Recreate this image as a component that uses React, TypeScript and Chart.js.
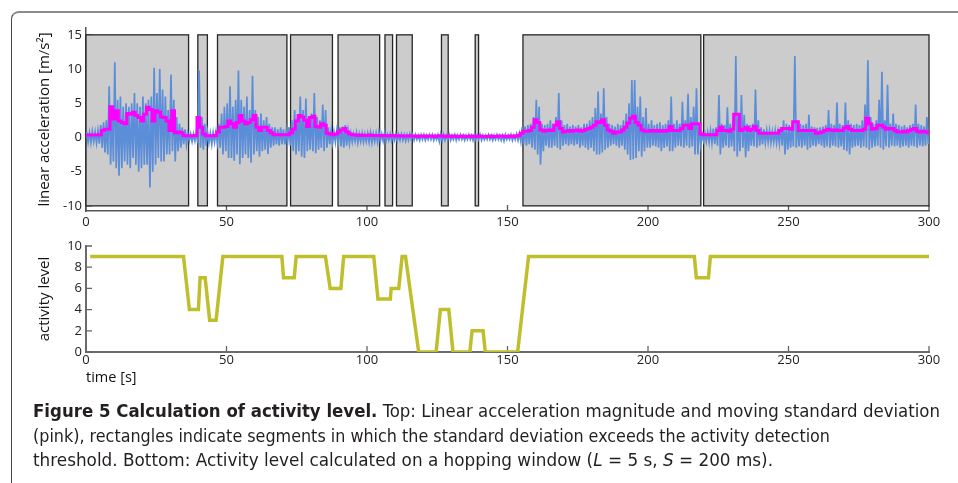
import React, { useEffect, useLayoutEffect, useRef } from "react";
import { Chart, registerables } from "chart.js";
Chart.register(...registerables);

// ---------- data ----------
// linear acceleration, per 1 s bin: upper and lower excursion (m/s^2)
const ACC_HI = [
  0.8, 0.7, 0.9, 0.8, 1.0, 1.8, 2.2, 2.5, 7.5, 4.0,
  11.0, 5.5, 6.0, 4.5, 5.0, 4.5, 5.0, 6.5, 5.0, 4.5,
  6.0, 5.0, 5.5, 6.0, 10.2, 6.5, 10.0, 7.0, 6.0, 4.0,
  9.2, 5.5, 3.0, 2.0, 1.5, 1.2, 0.6, 0.5, 0.5, 0.8,
  9.8, 3.0, 2.0, 0.8, 0.6, 0.7, 0.8, 2.0, 3.5, 4.5,
  5.0, 7.5, 4.5, 5.5, 9.8, 5.5, 4.5, 6.0, 4.0, 9.0,
  4.0, 3.0, 3.5, 2.5, 3.0, 2.0, 1.5, 1.5, 1.2, 1.5,
  1.2, 1.0, 1.5, 2.5, 4.0, 3.0, 6.0, 4.0, 5.7, 3.0,
  3.5, 6.5, 3.0, 2.5, 4.8, 4.0, 1.5, 1.0, 0.8, 1.0,
  1.5, 1.6, 1.8, 1.0, 0.6, 0.5, 0.7, 0.5, 0.6, 0.5,
  0.6, 0.7, 0.5, 0.6, 0.8, 0.5, 0.7, 0.4, 0.5, 0.4,
  0.5, 0.4, 0.5, 0.4, 0.4, 0.5, 0.4, 0.4, 0.3, 0.4,
  0.4, 0.3, 0.4, 0.4, 0.3, 0.4, 0.5, 0.4, 0.3, 0.4,
  0.3, 0.4, 0.3, 0.4, 0.3, 0.3, 0.4, 0.3, 0.4, 0.3,
  0.4, 0.3, 0.3, 0.4, 0.3, 0.3, 0.4, 0.3, 0.3, 0.4,
  0.3, 0.4, 0.3, 0.5, 0.6, 1.5, 1.6, 1.8, 2.0, 3.0,
  5.5, 4.5, 2.0, 1.8, 2.0, 2.5, 2.0, 3.0, 6.5, 2.5,
  1.8, 2.0, 1.6, 1.8, 1.6, 1.8, 1.5, 2.0, 2.0, 2.5,
  3.0, 4.3, 6.7, 3.5, 7.2, 3.0, 2.0, 1.8, 1.6, 2.0,
  1.8, 2.5, 3.5, 5.0, 8.4, 8.4, 4.5, 6.0, 3.0, 4.3,
  2.0, 2.5, 1.8, 2.0, 2.2, 1.8, 2.0, 2.5, 6.0, 2.0,
  2.5, 2.0, 5.2, 2.5, 6.4, 3.0, 4.5, 7.2, 2.0, 0.5,
  0.6, 0.8, 1.0, 1.3, 1.5, 6.2, 2.0, 1.8, 4.4, 2.0,
  2.5, 11.9, 3.0, 6.2, 3.3, 2.0, 1.8, 2.0, 7.0, 2.5,
  1.5, 1.2, 1.0, 1.0, 0.8, 1.0, 0.8, 1.5, 2.5, 2.0,
  1.8, 2.0, 11.9, 2.5, 2.0, 1.8, 2.0, 3.3, 1.6, 1.5,
  1.4, 1.5, 1.6, 1.8, 4.0, 2.0, 1.8, 5.1, 2.0, 1.8,
  5.1, 2.5, 2.0, 1.8, 2.0, 1.8, 2.5, 4.8, 11.3, 3.0,
  2.0, 2.5, 5.5, 9.6, 2.5, 7.7, 2.0, 3.5, 2.0, 1.8,
  1.6, 1.8, 1.5, 1.8, 2.0, 4.8, 2.0, 1.8, 1.6, 3.0,
];
const ACC_LO = [
  -0.7, -0.8, -0.6, -0.8, -0.9, -1.5, -2.2, -2.5, -4.0, -3.5,
  -4.5, -5.6, -4.5, -3.5, -4.0, -4.5, -3.0, -4.0, -5.0, -4.5,
  -4.0, -4.0, -7.3, -5.0, -4.0, -3.0, -3.5, -3.5, -2.5, -2.5,
  -2.0, -3.5, -2.0, -1.5, -1.0, -1.0, -0.5, -0.6, -0.5, -0.8,
  -1.5, -1.8, -1.2, -0.8, -1.0, -0.7, -0.8, -1.5, -2.5, -2.0,
  -3.0, -3.0, -3.4, -2.5, -3.9, -3.0, -2.5, -3.0, -3.7, -2.5,
  -2.0, -2.8, -2.0, -1.8, -2.4, -1.5, -1.2, -1.0, -1.2, -1.0,
  -1.0, -0.8, -1.2, -2.0, -2.5, -2.0, -2.8, -3.0, -2.0, -1.8,
  -2.0, -2.3, -1.8, -1.5, -2.0, -1.5, -1.0, -0.8, -0.7, -0.8,
  -1.3, -1.5, -1.2, -0.9, -0.7, -0.6, -0.8, -0.6, -0.7, -0.6,
  -0.7, -0.8, -0.6, -0.7, -0.6, -0.5, -0.6, -0.4, -0.5, -0.4,
  -0.5, -0.4, -0.4, -0.5, -0.4, -0.3, -0.4, -0.3, -0.4, -0.3,
  -0.4, -0.3, -0.3, -0.4, -0.3, -0.6, -0.5, -0.4, -0.3, -0.4,
  -0.3, -0.4, -0.3, -0.3, -0.4, -0.3, -0.3, -0.4, -0.3, -0.3,
  -0.4, -0.3, -0.3, -0.3, -0.4, -0.3, -0.3, -0.4, -0.5, -0.3,
  -0.3, -0.4, -0.3, -0.4, -0.6, -1.0, -1.2, -1.0, -1.5, -1.8,
  -2.5, -4.0, -2.0, -1.2, -1.5, -1.5, -1.2, -1.5, -1.8, -1.2,
  -1.0, -1.2, -1.0, -1.2, -1.0, -1.5, -1.2, -1.5, -1.8, -1.5,
  -2.0, -2.5, -2.5, -2.2, -1.8, -1.5, -1.2, -1.0, -1.2, -1.5,
  -1.2, -1.8, -2.5, -3.3, -3.2, -3.0, -2.0, -2.8, -2.0, -1.5,
  -1.5, -1.2, -1.3, -1.5, -2.0, -1.5, -1.3, -2.0, -2.0, -1.5,
  -1.2, -1.3, -1.5, -1.2, -1.5, -1.3, -2.5, -2.5, -1.0, -0.5,
  -0.6, -0.7, -0.8, -1.0, -1.2, -2.5, -1.5, -1.2, -1.5, -1.3,
  -2.0, -2.8, -2.0, -1.5, -2.9, -2.0, -1.2, -1.3, -1.5, -1.2,
  -1.0, -0.8, -0.7, -0.8, -0.7, -0.8, -0.9, -1.2, -2.5, -1.8,
  -1.5, -1.3, -1.5, -1.3, -1.5, -1.2, -1.8, -1.5, -1.2, -1.3,
  -1.0, -1.2, -1.5, -1.3, -1.5, -1.2, -1.3, -1.5, -1.3, -1.8,
  -2.0, -2.5, -1.5, -1.3, -1.2, -1.5, -1.3, -1.5, -1.8, -1.5,
  -1.3, -1.2, -1.5, -1.8, -1.3, -1.5, -1.2, -1.3, -1.2, -1.5,
  -1.3, -1.2, -1.5, -1.2, -1.3, -1.5, -1.2, -1.3, -1.2, -1.0,
];
// moving standard deviation, t = 0..300 s
const STD = [
  0.35, 0.35, 0.35, 0.35, 0.35, 0.4, 1.0, 1.2, 1.2, 4.5,
  2.7, 3.9, 2.4, 2.2, 2.0, 3.5, 3.4, 3.7, 3.2, 2.9,
  2.4, 3.4, 4.4, 4.1, 2.4, 3.9, 3.7, 3.0, 2.9, 2.4,
  1.0, 3.9, 0.7, 0.8, 0.7, 0.3, 0.25, 0.25, 0.25, 0.3,
  2.9, 1.5, 0.5, 0.25, 0.25, 0.25, 0.3, 0.8, 1.5, 1.5,
  1.6, 2.4, 2.0, 1.5, 2.2, 3.2, 2.4, 2.0, 2.2, 2.6,
  3.2, 1.5, 1.0, 1.5, 1.5, 1.0, 0.7, 0.4, 0.4, 0.4,
  0.4, 0.4, 0.4, 0.7, 1.2, 2.4, 3.2, 3.0, 2.5, 1.6,
  2.9, 3.1, 1.6, 1.5, 2.0, 1.8, 0.6, 0.5, 0.4, 0.5,
  0.8, 1.1, 1.3, 0.8, 0.5, 0.4, 0.35, 0.3, 0.35, 0.3,
  0.3, 0.35, 0.3, 0.3, 0.3, 0.25, 0.3, 0.25, 0.25, 0.3,
  0.25, 0.2, 0.25, 0.2, 0.2, 0.25, 0.2, 0.2, 0.15, 0.2,
  0.2, 0.15, 0.2, 0.2, 0.15, 0.2, 0.25, 0.2, 0.15, 0.2,
  0.15, 0.2, 0.15, 0.15, 0.2, 0.15, 0.15, 0.2, 0.15, 0.15,
  0.2, 0.15, 0.15, 0.15, 0.2, 0.15, 0.15, 0.2, 0.2, 0.15,
  0.15, 0.2, 0.15, 0.2, 0.3, 0.6, 0.9, 0.9, 1.0, 1.5,
  2.6, 2.2, 1.1, 0.9, 1.0, 1.1, 1.0, 1.8, 2.3, 1.3,
  0.8, 0.9, 1.0, 0.9, 1.0, 1.1, 0.9, 1.0, 1.2, 1.3,
  1.5, 1.8, 2.3, 2.2, 2.6, 1.8, 1.1, 0.9, 0.6, 0.8,
  0.8, 1.1, 1.5, 2.1, 2.8, 3.1, 2.2, 1.8, 1.1, 0.9,
  0.9, 1.0, 0.9, 1.0, 0.9, 1.0, 0.9, 1.0, 1.6, 1.0,
  1.0, 1.0, 1.3, 1.8, 1.8, 1.3, 2.0, 2.0, 2.0, 0.5,
  0.4, 0.4, 0.4, 0.4, 0.4, 1.0, 1.5, 1.0, 1.0, 0.9,
  1.2, 3.4, 3.4, 1.0, 1.2, 1.5, 1.0, 1.2, 1.6, 1.0,
  0.6, 0.6, 0.6, 0.6, 0.6, 0.6, 0.6, 1.0, 1.3, 1.3,
  1.3, 1.2, 2.3, 2.3, 1.0, 1.0, 1.0, 1.0, 1.0, 1.0,
  0.6, 0.7, 0.8, 1.0, 1.2, 1.1, 1.0, 1.1, 1.0, 1.0,
  1.4, 1.6, 1.2, 1.0, 1.0, 1.0, 1.0, 1.2, 2.8, 2.0,
  1.2, 1.3, 1.8, 1.8, 1.5, 1.2, 1.3, 1.3, 1.0, 0.8,
  0.8, 0.9, 0.8, 1.0, 1.2, 1.3, 0.9, 0.8, 0.9, 0.8,
  0.7,
];
// activity segments (s)
const SEG_START = [0, 39.8, 46.8, 72.8, 89.7, 106.4, 110.5, 126.5, 138.5, 155.5, 219.8];
const SEG_END = [36.5, 43.2, 71.5, 87.7, 104.5, 109.1, 116.1, 128.9, 139.7, 218.8, 300];
const SEG_LOW = -10;
const SEG_HIGH = 15;
// activity level breakpoints
const ACT_T = [1.5, 34.7, 36.8, 40.0, 40.6, 42.4, 44.0, 46.3, 48.7, 69.7, 70.3, 74.1, 74.8, 85.2, 86.9, 90.7, 91.7, 102.4, 103.9, 108.3, 108.6, 111.3, 112.5, 113.7, 118.4, 124.6, 126.1, 129.1, 130.6, 136.6, 137.4, 141.3, 142.1, 153.6, 157.5, 216.5, 217.2, 221.5, 222.2, 300];
const ACT_L = [9, 9, 4, 4, 7, 7, 3, 3, 9, 9, 7, 7, 9, 9, 6, 6, 9, 9, 5, 5, 6, 6, 9, 9, 0, 0, 4, 4, 0, 0, 2, 2, 0, 0, 9, 9, 7, 7, 9, 9];
// tick labels
const X_TICKS = [0, 50, 100, 150, 200, 250, 300];
const TOP_Y_TICKS = [-10, -5, 0, 5, 10, 15];
const BOT_Y_TICKS = [0, 2, 4, 6, 8, 10];

const FONT = "'Open Sans', 'DejaVu Sans', sans-serif";
const CAPTION_FONT = "'Liberation Sans Narrow', 'DejaVu Sans Condensed', 'Open Sans', sans-serif";

const decor = {
  id: "decor",
  beforeDatasetsDraw(chart: any, _args: any, opts: any) {
    const ctx = chart.ctx;
    const x = chart.scales.x;
    const y = chart.scales.y;
    ctx.save();
    ctx.strokeStyle = opts.tickColor;
    ctx.lineWidth = 1.3;
    ctx.beginPath();
    for (const t of x.ticks) {
      const px = x.getPixelForValue(t.value);
      ctx.moveTo(px, x.top);
      ctx.lineTo(px, x.top - opts.tickLen);
    }
    for (const t of y.ticks) {
      const py = y.getPixelForValue(t.value);
      ctx.moveTo(y.right, py);
      ctx.lineTo(y.right + opts.tickLen, py);
    }
    ctx.stroke();
    if (opts.segments) {
      ctx.fillStyle = "#cccccc";
      ctx.strokeStyle = "#262626";
      ctx.lineWidth = 1.3;
      for (let i = 0; i < SEG_START.length; i++) {
        const x0 = x.getPixelForValue(SEG_START[i]);
        const x1 = x.getPixelForValue(SEG_END[i]);
        const y0 = y.getPixelForValue(SEG_HIGH);
        const y1 = y.getPixelForValue(SEG_LOW);
        ctx.fillRect(x0, y0, x1 - x0, y1 - y0);
        ctx.strokeRect(x0, y0, x1 - x0, y1 - y0);
      }
    }
    ctx.restore();
  },
};

const tickFont = { family: FONT, size: 13 };
const titleFont = { family: FONT, size: 15 };

function setTicks(arr: number[]) {
  return (s: any) => {
    s.ticks = arr.map((v) => ({ value: v }));
  };
}

export default function App() {
  const topRef = useRef<HTMLCanvasElement>(null);
  const botRef = useRef<HTMLCanvasElement>(null);
  const capRefs = useRef<(HTMLDivElement | null)[]>([]);

  useEffect(() => {
    const accData: { x: number; y: number }[] = [];
    ACC_HI.forEach((h, i) => {
      accData.push({ x: i + 0.25, y: h });
      accData.push({ x: i + 0.75, y: ACC_LO[i] });
    });
    const stdData = STD.map((v, i) => ({ x: i, y: v }));
    const actData = ACT_T.map((t, i) => ({ x: t, y: ACT_L[i] }));

    const top = new Chart(topRef.current!, {
      type: "line",
      data: {
        datasets: [
          { data: stdData, borderColor: "#ff00ff", borderWidth: 3, pointRadius: 0, stepped: "middle" as any, tension: 0 },
          { data: accData, borderColor: "#5b8dd9", borderWidth: 1.7, pointRadius: 0, tension: 0 },
        ],
      },
      options: {
        animation: false,
        responsive: false,
        events: [],
        layout: { padding: { left: 0, right: 29, top: 28, bottom: 0 } },
        plugins: {
          legend: { display: false },
          tooltip: { enabled: false },
          decor: { tickLen: 6, tickColor: "#555", segments: true },
        } as any,
        scales: {
          x: {
            type: "linear",
            min: 0,
            max: 300,
            afterBuildTicks: setTicks(X_TICKS),
            afterFit: (s: any) => { s.height = 29; },
            grid: { display: false, drawTicks: false },
            border: { display: true, color: "#555", width: 1.5 },
            ticks: { padding: 3, color: "#222", font: tickFont, maxRotation: 0, autoSkip: false },
          },
          y: {
            type: "linear",
            min: -10.75,
            max: 16,
            afterBuildTicks: setTicks(TOP_Y_TICKS),
            afterFit: (s: any) => { s.width = 86; },
            grid: { display: false, drawTicks: false },
            border: { display: true, color: "#555", width: 1.5 },
            ticks: { padding: 4, color: "#222", font: tickFont },
            title: { display: true, text: "linear acceleration [m/s\u00B2]", color: "#111", font: titleFont, padding: { top: 36, bottom: 0 } },
          },
        },
      },
      plugins: [decor],
    });

    const bot = new Chart(botRef.current!, {
      type: "line",
      data: {
        datasets: [
          { data: actData, borderColor: "#bfbf2d", borderWidth: 3.5, pointRadius: 0, tension: 0 },
        ],
      },
      options: {
        animation: false,
        responsive: false,
        events: [],
        layout: { padding: { left: 0, right: 29, top: 16, bottom: 0 } },
        plugins: {
          legend: { display: false },
          tooltip: { enabled: false },
          decor: { tickLen: 6, tickColor: "#666", segments: false },
        } as any,
        scales: {
          x: {
            type: "linear",
            min: 0,
            max: 300,
            afterBuildTicks: setTicks(X_TICKS),
            afterFit: (s: any) => { s.height = 38; },
            grid: { display: false, drawTicks: false },
            border: { display: true, color: "#6b6b6b", width: 2 },
            ticks: { padding: 0, color: "#222", font: tickFont, maxRotation: 0, autoSkip: false },
            title: { display: true, text: "time [s]", align: "start", color: "#111", font: { family: FONT, size: 14.5 }, padding: { top: 0, bottom: 3 } },
          },
          y: {
            type: "linear",
            min: 0,
            max: 10,
            afterBuildTicks: setTicks(BOT_Y_TICKS),
            afterFit: (s: any) => { s.width = 86; },
            grid: { display: false, drawTicks: false },
            border: { display: true, color: "#6b6b6b", width: 2 },
            ticks: { padding: 4, color: "#222", font: tickFont },
            title: { display: true, text: "activity level", color: "#111", font: titleFont, padding: { top: 36, bottom: 0 } },
          },
        },
      },
      plugins: [decor],
    });

    return () => {
      top.destroy();
      bot.destroy();
    };
  }, []);

  useLayoutEffect(() => {
    const targets = [907, 797, 740];
    capRefs.current.forEach((el, i) => {
      if (!el) return;
      el.style.transform = "none";
      const w = el.getBoundingClientRect().width;
      if (w > 0) el.style.transform = `scaleX(${targets[i] / w})`;
    });
  }, []);

  const capStyle: React.CSSProperties = {
    position: "absolute",
    left: 33,
    whiteSpace: "nowrap",
    fontFamily: CAPTION_FONT,
    fontSize: 17.5,
    lineHeight: "24px",
    color: "#231f20",
    transformOrigin: "left center",
  };

  return (
    <div style={{ position: "absolute", left: 0, top: 0, width: 958, height: 483, overflow: "hidden", background: "#fff" }}>
      <div
        style={{
          position: "absolute",
          left: 11,
          top: 11,
          width: 1000,
          height: 520,
          borderTop: "2px solid #8c8c8c",
          borderLeft: "1px solid #4a4a4a",
          borderTopLeftRadius: 8,
        }}
      />
      <canvas ref={topRef} width={958} height={240} style={{ position: "absolute", left: 0, top: 0, width: 958, height: 240 }} />
      <canvas ref={botRef} width={958} height={160} style={{ position: "absolute", left: 0, top: 230, width: 958, height: 160 }} />
      <div ref={(el) => { capRefs.current[0] = el; }} style={{ ...capStyle, top: 399 }}>
        <b>Figure 5 Calculation of activity level.</b> Top: Linear acceleration magnitude and moving standard deviation
      </div>
      <div ref={(el) => { capRefs.current[1] = el; }} style={{ ...capStyle, top: 423.5 }}>
        (pink), rectangles indicate segments in which the standard deviation exceeds the activity detection
      </div>
      <div ref={(el) => { capRefs.current[2] = el; }} style={{ ...capStyle, top: 448 }}>
        threshold. Bottom: Activity level calculated on a hopping window (<i>L</i> = 5 s, <i>S</i> = 200 ms).
      </div>
    </div>
  );
}
